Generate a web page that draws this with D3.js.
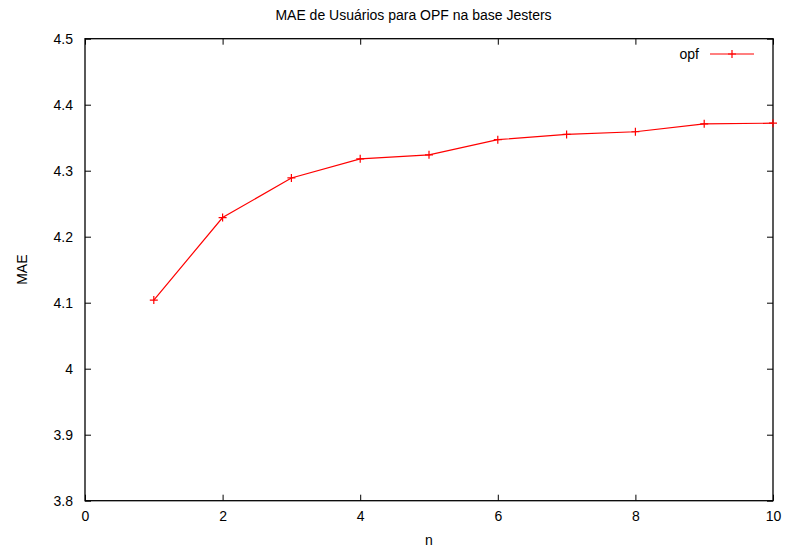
<!DOCTYPE html>
<html>
<head>
<meta charset="utf-8">
<script src="https://cdn.jsdelivr.net/npm/d3@7"></script>
<style>
  html, body { margin: 0; padding: 0; background: #fff; }
  svg { display: block; }
  text { font-family: "Liberation Sans", Arial, Helvetica, sans-serif; fill: #000; }
</style>
</head>
<body>
<script>
// MAE per neighbourhood size n for the OPF series
const nValues = [1, 2, 3, 4, 5, 6, 7, 8, 9, 10];
const maeValues = [4.104, 4.229, 4.289, 4.318, 4.324, 4.347, 4.355, 4.359, 4.371, 4.372];
const xTicks = [0, 2, 4, 6, 8, 10];
const yTicks = [3.8, 3.9, 4.0, 4.1, 4.2, 4.3, 4.4, 4.5];
const seriesName = "opf";
const titleText = "MAE de Usuários para OPF na base Jesters";
const xLabel = "n";
const yLabel = "MAE";

const W = 786, H = 551;
const plot = { left: 85, right: 773, top: 38.7, bottom: 500.7 };
const fontSize = 14;

const svg = d3.select("body").append("svg").attr("width", W).attr("height", H);

const x = d3.scaleLinear().domain([0, 10]).range([plot.left, plot.right]);
const y = d3.scaleLinear().domain([3.8, 4.5]).range([plot.bottom, plot.top]);

const tickLen = 6;
const fmtY = d => (Math.abs(d - 4) < 1e-9 ? "4" : d3.format(".1f")(d));

// bottom axis (labels) + mirrored ticks on top
const gx = svg.append("g").attr("transform", `translate(0,${plot.bottom})`)
  .call(d3.axisBottom(x).tickValues(xTicks).tickSizeInner(-tickLen).tickSizeOuter(0).tickPadding(10).tickFormat(d3.format("d")));
const gxTop = svg.append("g").attr("transform", `translate(0,${plot.top})`)
  .call(d3.axisTop(x).tickValues(xTicks).tickSizeInner(-tickLen).tickSizeOuter(0).tickFormat(""));

// left axis (labels) + mirrored ticks on right
const gy = svg.append("g").attr("transform", `translate(${plot.left},0)`)
  .call(d3.axisLeft(y).tickValues(yTicks).tickSizeInner(-tickLen).tickSizeOuter(0).tickPadding(12).tickFormat(fmtY));
const gyRight = svg.append("g").attr("transform", `translate(${plot.right},0)`)
  .call(d3.axisRight(y).tickValues(yTicks).tickSizeInner(-tickLen).tickSizeOuter(0).tickFormat(""));

[gx, gxTop, gy, gyRight].forEach(g => {
  g.select(".domain").remove();
  g.selectAll(".tick line").attr("stroke", "#000").attr("stroke-width", 1);
  g.selectAll(".tick text").attr("font-size", fontSize).attr("font-family", "Liberation Sans, Arial, sans-serif").attr("fill", "#000");
});

// plot border
svg.append("rect")
  .attr("x", plot.left).attr("y", plot.top)
  .attr("width", plot.right - plot.left).attr("height", plot.bottom - plot.top)
  .attr("fill", "none").attr("stroke", "#000").attr("stroke-width", 1.3);

// series line
const pts = nValues.map((n, i) => [n, maeValues[i]]);
svg.append("path")
  .datum(pts)
  .attr("fill", "none").attr("stroke", "#ff0000").attr("stroke-width", 1.2)
  .attr("d", d3.line().x(d => x(d[0])).y(d => y(d[1])));

// plus-shaped point markers
const cross = 4;
const marks = svg.append("g").attr("stroke", "#ff0000").attr("stroke-width", 1.2);
marks.selectAll("path").data(pts).join("path")
  .attr("d", d => {
    const px = x(d[0]), py = y(d[1]);
    return `M${px - cross},${py}H${px + cross}M${px},${py - cross}V${py + cross}`;
  });

// legend
const legY = 54;
svg.append("text").attr("x", 699).attr("y", legY).attr("dy", "0.35em")
  .attr("text-anchor", "end").attr("font-size", fontSize).text(seriesName);
svg.append("line").attr("x1", 710).attr("x2", 754).attr("y1", legY).attr("y2", legY)
  .attr("stroke", "#ff0000").attr("stroke-width", 1.2);
svg.append("path").attr("stroke", "#ff0000").attr("stroke-width", 1.2)
  .attr("d", `M${732 - cross},${legY}H${732 + cross}M732,${legY - cross}V${legY + cross}`);

// titles
svg.append("text").attr("x", 413.5).attr("y", 15).attr("dy", "0.35em")
  .attr("text-anchor", "middle").attr("font-size", fontSize).text(titleText);
svg.append("text").attr("x", (plot.left + plot.right) / 2).attr("y", 540).attr("dy", "0.35em")
  .attr("text-anchor", "middle").attr("font-size", fontSize).text(xLabel);
svg.append("text").attr("transform", `translate(22,${(plot.top + plot.bottom) / 2}) rotate(-90)`)
  .attr("dy", "0.35em").attr("text-anchor", "middle").attr("font-size", fontSize).text(yLabel);
</script>
</body>
</html>
